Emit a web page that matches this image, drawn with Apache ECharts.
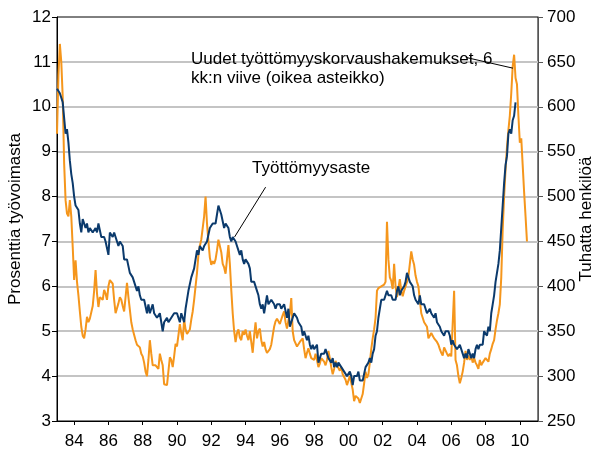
<!DOCTYPE html>
<html><head><meta charset="utf-8">
<script src="https://cdn.jsdelivr.net/npm/echarts@6/dist/echarts.min.js"></script>
<style>html,body{margin:0;padding:0;background:#fff}#c{width:594px;height:455px}</style>
</head><body><div id="c"></div>
<script>
// Monthly data, first value = January 1983
const startYear = 1983;
// Unemployment rate, % of labour force (left axis), Jan 1983 .. Oct 2009
const unemploymentRate = [
  10.4,10.4,10.3,10.2,10.1,10.1,9.4,9.5,9.2,8.8,8.5,8.3,
  8.0,7.8,7.8,7.7,7.4,7.2,7.5,7.5,7.3,7.4,7.2,7.3,
  7.3,7.2,7.2,7.3,7.2,7.4,7.4,7.1,7.1,7.1,7.0,7.0,
  6.7,7.2,7.2,7.1,7.2,7.2,7.0,6.9,7.0,7.0,6.9,6.6,
  6.6,6.6,6.6,6.3,6.3,6.2,6.1,6.0,5.9,6.0,5.8,5.7,
  5.7,5.7,5.7,5.4,5.6,5.4,5.4,5.6,5.4,5.4,5.3,5.3,
  5.4,5.2,5.0,5.2,5.2,5.3,5.2,5.2,5.3,5.3,5.4,5.4,
  5.4,5.3,5.2,5.4,5.4,5.2,5.5,5.7,5.9,5.9,6.2,6.3,
  6.4,6.6,6.8,6.7,6.9,6.9,6.8,6.9,6.9,7.0,7.0,7.3,
  7.3,7.4,7.4,7.4,7.6,7.8,7.7,7.6,7.6,7.3,7.4,7.4,
  7.3,7.1,7.0,7.1,7.1,7.0,6.9,6.8,6.7,6.8,6.6,6.5,
  6.6,6.6,6.5,6.4,6.1,6.1,6.1,6.0,5.9,5.8,5.6,5.5,
  5.6,5.4,5.4,5.8,5.6,5.6,5.7,5.7,5.6,5.5,5.6,5.6,
  5.6,5.5,5.5,5.6,5.6,5.3,5.5,5.1,5.2,5.2,5.4,5.4,
  5.3,5.2,5.2,5.1,4.9,5.0,4.9,4.8,4.9,4.7,4.6,4.7,
  4.6,4.6,4.7,4.3,4.4,4.5,4.5,4.5,4.6,4.5,4.4,4.4,
  4.3,4.4,4.2,4.3,4.2,4.3,4.3,4.2,4.2,4.1,4.1,4.0,
  4.0,4.1,4.0,3.8,4.0,4.0,4.0,4.1,3.9,3.9,3.9,3.9,
  4.2,4.2,4.3,4.4,4.3,4.5,4.6,4.9,5.0,5.3,5.5,5.7,
  5.7,5.7,5.7,5.9,5.8,5.8,5.8,5.7,5.7,5.7,5.9,6.0,
  5.8,5.9,5.9,6.0,6.1,6.3,6.2,6.1,6.1,6.0,5.8,5.7,
  5.7,5.6,5.8,5.6,5.6,5.6,5.5,5.4,5.4,5.5,5.4,5.4,
  5.3,5.4,5.2,5.2,5.1,5.0,5.0,4.9,5.0,5.0,5.0,4.9,
  4.7,4.8,4.7,4.7,4.6,4.6,4.7,4.7,4.5,4.4,4.5,4.4,
  4.6,4.5,4.4,4.5,4.4,4.6,4.7,4.6,4.7,4.7,4.7,5.0,
  5.0,4.9,5.1,5.0,5.4,5.6,5.8,6.1,6.1,6.5,6.8,7.3,
  7.8,8.3,8.7,8.9,9.4,9.5,9.4,9.7,9.8,10.1
];
// New unemployment benefit claims, 6-month lag, thousands (right axis), Jan 1983 .. Jun 2010
const newClaims = [
  570,635,670,650,611,537,496,481,478,496,478,444,
  407,429,405,390,372,355,345,342,352,366,360,364,
  365,378,395,418,392,377,388,386,385,396,392,385,
  400,407,405,403,385,370,368,381,388,385,378,372,
  388,404,388,374,360,352,350,340,335,336,332,325,
  322,315,305,300,318,340,325,312,310,312,312,308,
  325,318,312,291,293,290,292,321,318,310,322,336,
  333,335,358,348,340,363,352,347,345,352,363,372,
  385,400,415,435,445,452,452,478,500,470,450,432,
  424,428,425,430,440,452,445,438,425,421,414,430,
  446,425,396,370,350,338,348,352,343,340,350,346,
  352,345,340,350,348,326,345,360,342,350,353,340,
  333,338,330,326,324,330,335,345,355,361,364,366,
  358,360,368,372,360,353,362,370,387,350,340,338,
  333,335,338,340,342,330,320,326,331,325,320,322,
  318,325,318,310,314,320,322,316,312,318,328,320,
  310,302,308,317,312,313,306,310,302,304,296,290,
  295,300,298,285,272,278,280,275,270,272,280,292,
  305,298,302,315,330,342,352,365,395,398,396,400,
  398,402,405,472,430,410,406,397,425,400,388,398,
  408,395,389,395,400,405,411,425,439,430,424,412,
  405,400,385,370,365,360,362,355,342,345,348,345,
  342,340,338,335,330,326,323,332,330,325,322,325,
  322,320,395,318,312,300,292,298,305,315,328,318,
  323,318,322,315,320,315,312,308,318,312,315,317,
  320,322,316,325,330,336,340,352,362,370,380,410,
  463,500,530,555,574,590,615,645,658,632,625,590,
  560,565,535,505,478,450
];
const xTickYears = [1984,1986,1988,1990,1992,1994,1996,1998,2000,2002,2004,2006,2008,2010];
const rateLabel = 'Työttömyysaste';
const claimsLabel1 = 'Uudet työttömyyskorvaushakemukset, 6';
const claimsLabel2 = 'kk:n viive (oikea asteikko)';
// leader line ends [year, axis value]
const rateLeader = [[1995.17, 8.21], [1993.36, 7.1]];
const claimsLeader = [[2006.85, 655], [2009.6, 643]];

const toPairs = arr => arr.map((v, i) => [startYear + i / 12, v]);
const FONT = '"Liberation Sans", Arial, sans-serif';
const chart = echarts.init(document.getElementById('c'), null, {renderer: 'canvas'});
chart.setOption({
  animation: false,
  backgroundColor: '#fff',
  textStyle: {fontFamily: FONT},
  grid: {left: 57, right: 56, top: 17, bottom: 34, containLabel: false, outerBoundsMode: 'none',
    show: true, borderColor: '#000', borderWidth: 1, backgroundColor: 'transparent'},
  xAxis: {
    type: 'value', min: 1983, max: 2011.06,
    axisLine: {show: true, onZero: false, lineStyle: {color: '#000', width: 1}},
    axisTick: {show: true, length: 4, lineStyle: {color: '#000'}, customValues: xTickYears},
    axisLabel: {customValues: xTickYears, margin: 12, fontSize: 17, color: '#000', fontFamily: FONT,
      formatter: v => String(Math.round(v)).slice(2)},
    splitLine: {show: false}
  },
  yAxis: [{
    type: 'value', min: 3, max: 12, interval: 1, position: 'left',
    name: 'Prosenttia työvoimasta', nameLocation: 'middle', nameGap: 33, nameRotate: 90,
    nameMoveOverlap: false,
    nameTextStyle: {fontSize: 17, color: '#000', fontFamily: FONT},
    axisLine: {show: true, lineStyle: {color: '#000'}},
    axisTick: {show: true, length: 5, lineStyle: {color: '#000'}},
    axisLabel: {margin: 6, fontSize: 17, color: '#000', fontFamily: FONT},
    splitLine: {show: true, showMinLine: false, showMaxLine: false, lineStyle: {color: '#c4c4c4', width: 2}}
  }, {
    type: 'value', min: 250, max: 700, interval: 50, position: 'right',
    name: 'Tuhatta henkilöä', nameLocation: 'middle', nameGap: 40, nameRotate: 90,
    nameMoveOverlap: false,
    nameTextStyle: {fontSize: 17, color: '#000', fontFamily: FONT},
    axisLine: {show: true, lineStyle: {color: '#555'}},
    axisTick: {show: true, length: 5, lineStyle: {color: '#555'}},
    axisLabel: {margin: 9, fontSize: 17, color: '#000', fontFamily: FONT},
    splitLine: {show: false}
  }],
  series: [{
    name: 'claims', type: 'line', yAxisIndex: 1, data: toPairs(newClaims),
    showSymbol: false, symbol: 'none', z: 2,
    lineStyle: {color: '#f5961c', width: 2},
    markLine: {silent: true, symbol: 'none', label: {show: false},
      lineStyle: {color: '#000', width: 1, type: 'solid'},
      data: [[{coord: claimsLeader[0]}, {coord: claimsLeader[1]}]]}
  }, {
    name: 'rate', type: 'line', yAxisIndex: 0, data: toPairs(unemploymentRate),
    showSymbol: false, symbol: 'none', z: 3,
    lineStyle: {color: '#0b3a6c', width: 2},
    markLine: {silent: true, symbol: 'none', label: {show: false},
      lineStyle: {color: '#000', width: 1, type: 'solid'},
      data: [[{coord: rateLeader[0]}, {coord: rateLeader[1]}]]}
  }],
  graphic: [
    {type: 'text', x: 252, y: 168, z: 10, style: {text: rateLabel, font: '17px ' + FONT, fill: '#000', verticalAlign: 'middle'}},
    {type: 'text', x: 191, y: 59, z: 10, style: {text: claimsLabel1, font: '17px ' + FONT, fill: '#000', verticalAlign: 'middle'}},
    {type: 'text', x: 191, y: 78, z: 10, style: {text: claimsLabel2, font: '17px ' + FONT, fill: '#000', verticalAlign: 'middle'}}
  ]
});
</script></body></html>
